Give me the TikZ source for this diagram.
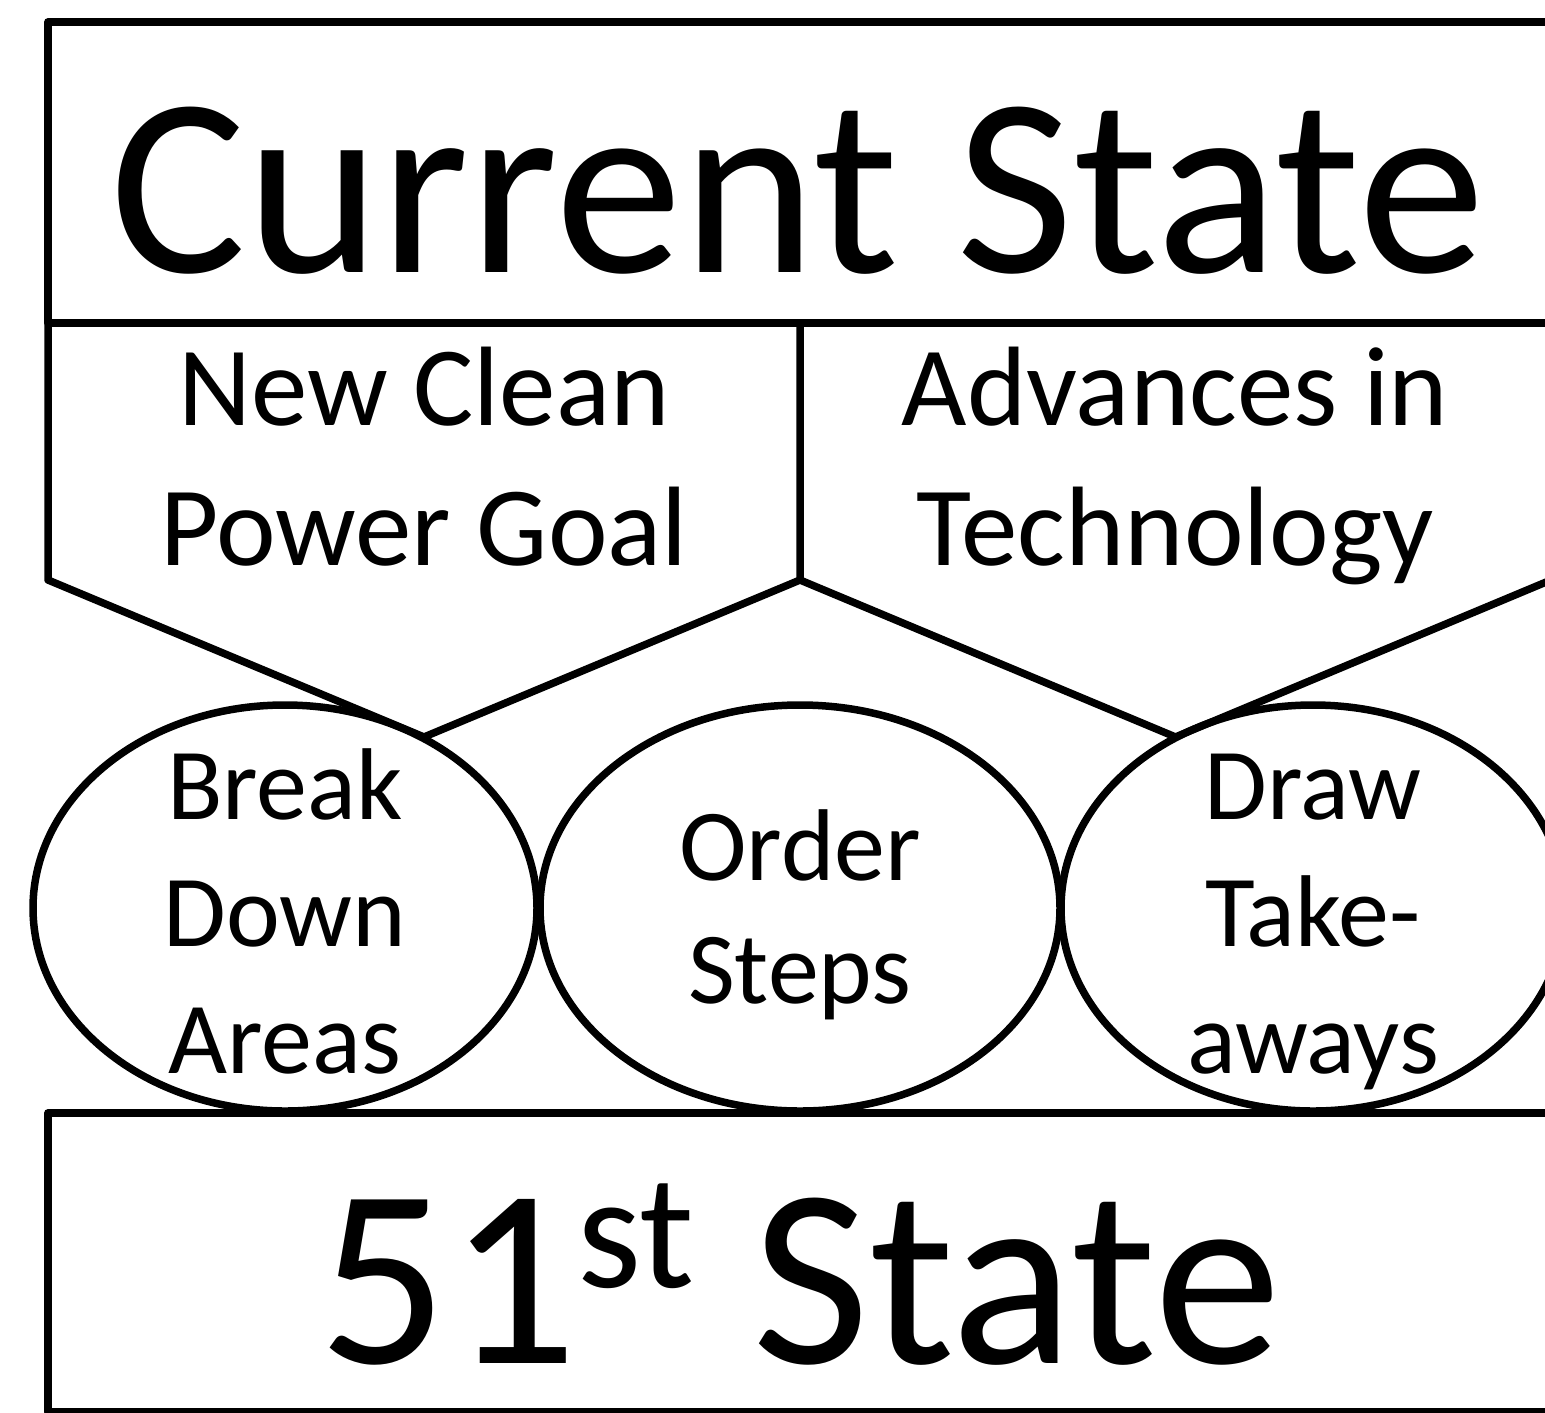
\documentclass[tikz,border=0pt]{standalone}
\usepackage{fontspec}
\setmainfont{Carlito}
\usetikzlibrary{shapes.geometric}

\newcommand{\arrowblock}[3]{%
  % #1=left x, #2=right x, #3=name of the tip
  \draw[outline] (#1,323) -- (#1,580) -- ({(#1+#2)/2},737) -- (#2,580);
  \coordinate (#3) at ({(#1+#2)/2},737);
}

\begin{document}
\begin{tikzpicture}[
  x=0.5pt, y=-0.5pt,
  outline/.style={line width=3.75pt, line join=round},
  bubble/.style={ellipse, draw, line width=3.75pt, inner sep=0pt,
    minimum width=252pt, minimum height=203pt},
  bigtext/.style={anchor=base, inner sep=0pt, font=\fontsize{127.5}{150}\selectfont},
  sidetext/.style={anchor=base, inner sep=0pt, align=center, font=\fontsize{56.5}{70}\selectfont},
  bubbletext/.style={anchor=base, inner sep=0pt, align=center, font=\fontsize{51}{63.5}\selectfont},
]
\useasboundingbox (0,0) rectangle (1545,1412);
\clip (0,0) rectangle (1545,1412);

% Top box
\draw[outline] (48,22) rectangle (1551,323);
\node[bigtext] (current) at (798,272) {Current State};

% Two drivers pointing down
\arrowblock{48}{800}{goaltip}
\arrowblock{800}{1551}{techtip}
\draw[outline] (1551,580) -- (1551,323);
\node[sidetext] (goal) at (424,565) {New Clean\\Power Goal};
\node[sidetext] (tech) at (1175,565) {Advances in\\Technology};

% Steps
\node[bubble] (areas) at (285,908) {};
\node[bubble, minimum width=260pt] (order) at (800,908) {};
\node[bubble] (takeaways) at (1313,908) {};
\node[bubbletext] (areastext) at (285,1073) {Break\\Down\\Areas};
\node[bubbletext, font=\fontsize{51}{61.5}\selectfont] (ordertext) at (800,1003) {Order\\Steps};
\node[bubbletext] (takeawaystext) at (1313,1073) {Draw\\Take-\\aways};

% Bottom box
\draw[outline] (48,1113) rectangle (1551,1412);
\node[bigtext] (target) at (800,1363)
  {51\raisebox{38pt}{\fontsize{82}{82}\selectfont st} State};

\end{tikzpicture}
\end{document}
